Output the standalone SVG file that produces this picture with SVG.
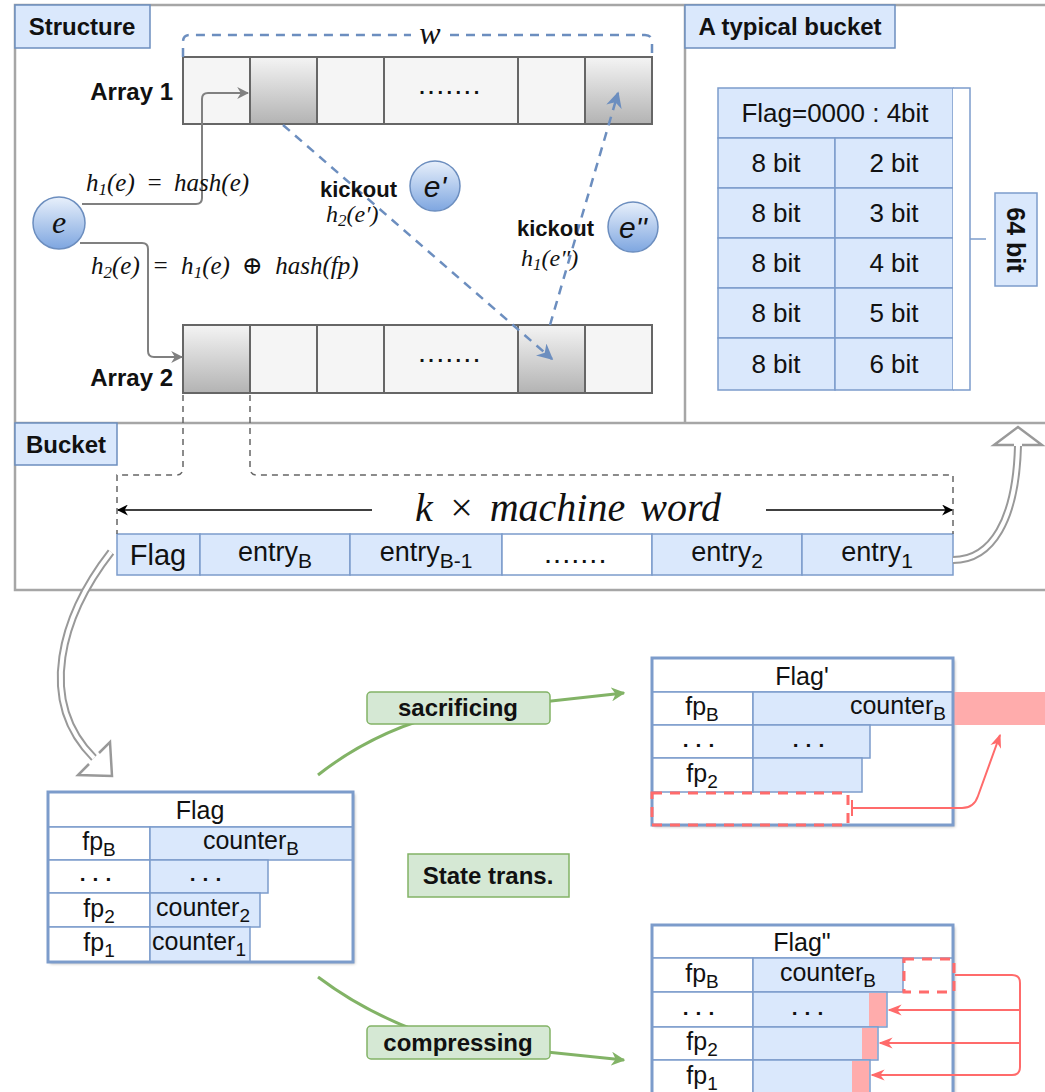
<svg xmlns="http://www.w3.org/2000/svg" width="1045" height="1092" viewBox="0 0 1045 1092">
<style>
.sans{font-family:"Liberation Sans",Arial,sans-serif;fill:#111}
.b{font-weight:bold}
.math{font-family:"Liberation Serif","DejaVu Serif",serif;font-style:italic;fill:#111}
.panel{fill:none;stroke:#a6a6a6;stroke-width:2.5}
.lbl{fill:#dae8fc;stroke:#6c8ebf;stroke-width:1.5}
.cell{fill:#f5f5f5;stroke:#666;stroke-width:2}
.shade{fill:url(#gShade);stroke:#666;stroke-width:2}
.bc{fill:#dae8fc;stroke:#7c9ccb;stroke-width:1.5}
.wc{fill:#fff;stroke:#7c9ccb;stroke-width:1.5}
.outer{fill:none;stroke:#7c9ccb;stroke-width:3}
.pink{fill:#ffacac;stroke:none}
.reddash{fill:none;stroke:#ff6b6b;stroke-width:3;stroke-dasharray:10 8}
.red{fill:none;stroke:#ff6b6b;stroke-width:2}
.gline{fill:none;stroke:#82b366;stroke-width:3}
.glbl{fill:#d5e8d4;stroke:#82b366;stroke-width:1.5}
.bdash{fill:none;stroke:#6c8ebf;stroke-width:2.5;stroke-dasharray:9 7}
.gdash{fill:none;stroke:#666;stroke-width:1.5;stroke-dasharray:6 5}
.conn{fill:none;stroke:#808080;stroke-width:2}
.hollowO{fill:none;stroke:#999;stroke-width:8}
.hollowI{fill:none;stroke:#fff;stroke-width:4}
.hhead{fill:#fff;stroke:#999;stroke-width:2.5;stroke-linejoin:miter}
.circ{fill:url(#gCirc);stroke:#6c8ebf;stroke-width:1.5}
</style>
<defs>
<linearGradient id="gShade" x1="0" y1="0" x2="0" y2="1"><stop offset="0" stop-color="#f4f4f4"/><stop offset="1" stop-color="#b3b3b3"/></linearGradient>
<linearGradient id="gCirc" x1="0" y1="0" x2="0" y2="1"><stop offset="0" stop-color="#e8f0fb"/><stop offset="1" stop-color="#7ea6e0"/></linearGradient>
<marker id="mGray" viewBox="0 0 10 10" refX="9" refY="5" markerWidth="12" markerHeight="12" markerUnits="userSpaceOnUse" orient="auto"><path d="M0,0 L10,5 L0,10 L3,5 z" fill="#808080"/></marker>
<marker id="mBlue" viewBox="0 0 10 10" refX="9" refY="5" markerWidth="16" markerHeight="16" markerUnits="userSpaceOnUse" orient="auto"><path d="M0,0 L10,5 L0,10 L3,5 z" fill="#6c8ebf"/></marker>
<marker id="mBlack" viewBox="0 0 10 10" refX="9" refY="5" markerWidth="11" markerHeight="11" markerUnits="userSpaceOnUse" orient="auto"><path d="M0,0 L10,5 L0,10 L3,5 z" fill="#000"/></marker>
<marker id="mGreen" viewBox="0 0 10 10" refX="9" refY="5" markerWidth="14" markerHeight="14" markerUnits="userSpaceOnUse" orient="auto"><path d="M0,0 L10,5 L0,10 L3,5 z" fill="#82b366"/></marker>
<marker id="mRed" viewBox="0 0 10 10" refX="9" refY="5" markerWidth="14" markerHeight="14" markerUnits="userSpaceOnUse" orient="auto"><path d="M0,1 L10,5 L0,9 L3,5 z" fill="#ff6b6b"/></marker>
<filter id="sh" x="-5%" y="-5%" width="115%" height="115%"><feDropShadow dx="2" dy="2" stdDeviation="1.5" flood-color="#000" flood-opacity="0.25"/></filter>
</defs>

<rect width="1045" height="1092" fill="#fff"/>

<g id="panels">
<rect class="panel" x="15" y="5" width="1040" height="585"/>
<line class="panel" x1="15" y1="423" x2="1045" y2="423"/>
<line class="panel" x1="685" y1="5" x2="685" y2="423"/>
</g>

<g id="label-structure"><rect class="lbl" x="15" y="5" width="135" height="43"/><text class="sans b" x="82" y="35" font-size="24" text-anchor="middle">Structure</text></g>
<g id="label-typical"><rect class="lbl" x="685" y="5" width="210" height="43"/><text class="sans b" x="790" y="35" font-size="24" text-anchor="middle">A typical bucket</text></g>
<g id="label-bucket"><rect class="lbl" x="15" y="423" width="102" height="42"/><text class="sans b" x="66" y="453" font-size="24" text-anchor="middle">Bucket</text></g>

<g id="array1">
<text class="sans b" x="173" y="100" font-size="24" text-anchor="end">Array 1</text>
<rect class="cell" x="183" y="57" width="67" height="67"/>
<rect class="shade" x="250" y="57" width="67" height="67"/>
<rect class="cell" x="317" y="57" width="67" height="67"/>
<rect class="cell" x="384" y="57" width="134" height="67"/>
<rect class="cell" x="518" y="57" width="67" height="67"/>
<rect class="shade" x="585" y="57" width="67" height="67"/>
<text class="sans b" x="451" y="94" font-size="20" text-anchor="middle" letter-spacing="3.5">.......</text>
</g>

<g id="array2">
<text class="sans b" x="173" y="386" font-size="24" text-anchor="end">Array 2</text>
<rect class="shade" x="183" y="325" width="67" height="68"/>
<rect class="cell" x="250" y="325" width="67" height="68"/>
<rect class="cell" x="317" y="325" width="67" height="68"/>
<rect class="cell" x="384" y="325" width="134" height="68"/>
<rect class="shade" x="518" y="325" width="67" height="68"/>
<rect class="cell" x="585" y="325" width="67" height="68"/>
<text class="sans b" x="451" y="362" font-size="20" text-anchor="middle" letter-spacing="3.5">.......</text>
</g>

<g id="node-e"><circle class="circ" cx="59" cy="223" r="26"/><text class="math" x="59" y="233" font-size="32" text-anchor="middle">e</text></g>
<g id="node-e1"><circle class="circ" cx="435" cy="186" r="25"/><text class="sans" x="435" y="197" font-size="30" font-style="italic" text-anchor="middle">e'</text></g>
<g id="node-e2"><circle class="circ" cx="633" cy="227" r="25"/><text class="sans" x="633" y="238" font-size="30" font-style="italic" text-anchor="middle">e''</text></g>

<g id="typical-bucket" class="sans">
<rect class="bc" x="718" y="88" width="235" height="50"/>
<text x="835" y="122" font-size="26" text-anchor="middle">Flag=0000 : 4bit</text>
<rect class="bc" x="718" y="138" width="117" height="50"/><rect class="bc" x="835" y="138" width="118" height="50"/>
<rect class="bc" x="718" y="188" width="117" height="50"/><rect class="bc" x="835" y="188" width="118" height="50"/>
<rect class="bc" x="718" y="238" width="117" height="50"/><rect class="bc" x="835" y="238" width="118" height="50"/>
<rect class="bc" x="718" y="288" width="117" height="50"/><rect class="bc" x="835" y="288" width="118" height="50"/>
<rect class="bc" x="718" y="338" width="117" height="52"/><rect class="bc" x="835" y="338" width="118" height="52"/>
<g font-size="26" text-anchor="middle">
<text x="776" y="172">8 bit</text><text x="894" y="172">2 bit</text>
<text x="776" y="222">8 bit</text><text x="894" y="222">3 bit</text>
<text x="776" y="272">8 bit</text><text x="894" y="272">4 bit</text>
<text x="776" y="322">8 bit</text><text x="894" y="322">5 bit</text>
<text x="776" y="373">8 bit</text><text x="894" y="373">6 bit</text>
</g>
<path d="M953 88 H970 V390 H953" fill="#fff" stroke="#7c9ccb" stroke-width="1.5"/>
<line x1="970" y1="239" x2="986" y2="239" stroke="#7c9ccb" stroke-width="1.5"/>
<rect class="bc" x="995" y="193" width="42" height="93"/>
<text class="b" x="1016" y="240" font-size="25" text-anchor="middle" transform="rotate(90 1016 240)" dy="9">64 bit</text>
</g>

<g id="bucket-row" class="sans">
<rect class="bc" x="117" y="534" width="83" height="41"/>
<rect class="bc" x="200" y="534" width="150" height="41"/>
<rect class="bc" x="350" y="534" width="152" height="41"/>
<rect x="502" y="534" width="150" height="41" fill="#fff" stroke="#7c9ccb" stroke-width="1.5"/>
<rect class="bc" x="652" y="534" width="150" height="41"/>
<rect class="bc" x="802" y="534" width="151" height="41"/>
<text x="158" y="565" font-size="29" text-anchor="middle">Flag</text>
<text x="275" y="561" font-size="27" text-anchor="middle">entry<tspan font-size="21" dy="7">B</tspan></text>
<text x="426" y="561" font-size="27" text-anchor="middle">entry<tspan font-size="21" dy="7">B-1</tspan></text>
<text class="b" x="577" y="563" font-size="20" text-anchor="middle" letter-spacing="3.5">.......</text>
<text x="727" y="561" font-size="27" text-anchor="middle">entry<tspan font-size="21" dy="7">2</tspan></text>
<text x="877" y="561" font-size="27" text-anchor="middle">entry<tspan font-size="21" dy="7">1</tspan></text>
</g>

<g id="table-flag" class="sans">
<rect x="48" y="792" width="305" height="170" fill="#fff" filter="url(#sh)"/>
<rect class="wc" x="48" y="792" width="305" height="35"/>
<rect class="wc" x="48" y="827" width="102" height="33"/>
<rect class="wc" x="48" y="860" width="102" height="33"/>
<rect class="wc" x="48" y="893" width="102" height="34"/>
<rect class="wc" x="48" y="927" width="102" height="35"/>
<rect class="bc" x="150" y="827" width="203" height="33"/>
<rect class="bc" x="150" y="860" width="118" height="33"/>
<rect class="bc" x="150" y="893" width="110" height="34"/>
<rect class="bc" x="150" y="927" width="100" height="35"/>
<rect class="outer" x="48" y="792" width="305" height="170"/>
<text x="200" y="819" font-size="25" text-anchor="middle">Flag</text>
<g font-size="25">
<text x="99" y="850" text-anchor="middle">fp<tspan font-size="19" dy="6">B</tspan></text>
<text x="99" y="881" text-anchor="middle" font-weight="bold" font-size="21" letter-spacing="7">...</text>
<text x="99" y="917" text-anchor="middle">fp<tspan font-size="19" dy="6">2</tspan></text>
<text x="99" y="951" text-anchor="middle">fp<tspan font-size="19" dy="6">1</tspan></text>
<text x="251" y="849" text-anchor="middle">counter<tspan font-size="19" dy="6">B</tspan></text>
<text x="209" y="881" text-anchor="middle" font-weight="bold" font-size="21" letter-spacing="7">...</text>
<text x="156" y="916">counter<tspan font-size="19" dy="6">2</tspan></text>
<text x="152" y="950">counter<tspan font-size="19" dy="6">1</tspan></text>
</g>
</g>

<g id="table-flag1" class="sans">
<rect x="652" y="658" width="301" height="167" fill="#fff" filter="url(#sh)"/>
<rect class="wc" x="652" y="658" width="301" height="34"/>
<rect class="wc" x="652" y="692" width="101" height="33"/>
<rect class="wc" x="652" y="725" width="101" height="33"/>
<rect class="wc" x="652" y="758" width="101" height="34"/>
<rect class="bc" x="753" y="692" width="200" height="33"/>
<rect class="pink" x="953" y="692" width="95" height="33"/>
<rect class="bc" x="753" y="725" width="117" height="33"/>
<rect class="bc" x="753" y="758" width="109" height="34"/>
<rect class="outer" x="652" y="658" width="301" height="167"/>
<rect class="reddash" x="652" y="793" width="196" height="32"/>
<text x="802" y="685" font-size="25" text-anchor="middle">Flag'</text>
<g font-size="25">
<text x="702" y="715" text-anchor="middle">fp<tspan font-size="19" dy="6">B</tspan></text>
<text x="702" y="747" text-anchor="middle" font-weight="bold" font-size="21" letter-spacing="7">...</text>
<text x="702" y="782" text-anchor="middle">fp<tspan font-size="19" dy="6">2</tspan></text>
<text x="946" y="714" text-anchor="end">counter<tspan font-size="19" dy="6">B</tspan></text>
<text x="812" y="747" text-anchor="middle" font-weight="bold" font-size="21" letter-spacing="7">...</text>
</g>
</g>

<g id="table-flag2" class="sans">
<rect x="652" y="925" width="301" height="175" fill="#fff" filter="url(#sh)"/>
<rect class="wc" x="652" y="925" width="301" height="33"/>
<rect class="wc" x="652" y="958" width="101" height="34"/>
<rect class="wc" x="652" y="992" width="101" height="35"/>
<rect class="wc" x="652" y="1027" width="101" height="33"/>
<rect class="wc" x="652" y="1060" width="101" height="40"/>
<rect class="bc" x="753" y="958" width="150" height="34"/>
<rect class="bc" x="753" y="992" width="134" height="35"/>
<rect class="pink" x="869" y="993" width="17" height="33"/>
<rect class="bc" x="753" y="1027" width="125" height="33"/>
<rect class="pink" x="862" y="1028" width="15" height="31"/>
<rect class="bc" x="753" y="1060" width="117" height="40"/>
<rect class="pink" x="852" y="1061" width="17" height="38"/>
<rect class="outer" x="652" y="925" width="301" height="180"/>
<rect class="reddash" x="904" y="959" width="50" height="33" fill="#fff"/>
<text x="802" y="951" font-size="25" text-anchor="middle">Flag"</text>
<g font-size="25">
<text x="702" y="982" text-anchor="middle">fp<tspan font-size="19" dy="6">B</tspan></text>
<text x="702" y="1015" text-anchor="middle" font-weight="bold" font-size="21" letter-spacing="7">...</text>
<text x="702" y="1050" text-anchor="middle">fp<tspan font-size="19" dy="6">2</tspan></text>
<text x="702" y="1084" text-anchor="middle">fp<tspan font-size="19" dy="6">1</tspan></text>
<text x="828" y="981" text-anchor="middle">counter<tspan font-size="19" dy="6">B</tspan></text>
<text x="811" y="1015" text-anchor="middle" font-weight="bold" font-size="21" letter-spacing="7">...</text>
</g>
</g>

<g id="connectors">
<path class="bdash" d="M183 57 V42 Q183 35 190 35 H411"/>
<path class="bdash" d="M450 35 H645 Q652 35 652 42 V57"/>
<path class="conn" d="M82 204 H196 Q202 204 202 198 V99 Q202 93 208 93 H248" marker-end="url(#mGray)"/>
<path class="conn" d="M80 243 H142 Q148 243 148 249 V351 Q148 357 154 357 H182" marker-end="url(#mGray)"/>
<path class="bdash" d="M283 125 L552 359" marker-end="url(#mBlue)"/>
<path class="bdash" d="M550 325 L618 93" marker-end="url(#mBlue)"/>
<path class="gdash" d="M183 395 V468 Q183 475 176 475 H117 V534"/>
<path class="gdash" d="M250 395 V468 Q250 475 257 475 H953 V534"/>
<path d="M372 510 H118" stroke="#000" stroke-width="1.5" marker-end="url(#mBlack)"/>
<path d="M766 510 H952" stroke="#000" stroke-width="1.5" marker-end="url(#mBlack)"/>
<path class="hollowO" d="M953 560 C992 560 1016 520 1018 446"/>
<path class="hollowI" d="M953 560 C992 560 1016 520 1018 446"/>
<path class="hhead" d="M1014 445 H994 L1018 427 L1042 445 H1022"/>
<path class="hollowO" d="M111 552 C62 615 36 700 94 758"/>
<path class="hollowI" d="M111 552 C62 615 36 700 94 758"/>
<path class="hhead" d="M89 764 L78 775 L112 776 L110 742 L99 753"/>
<path class="gline" d="M318 775 Q375 730 450 712 L624 693" marker-end="url(#mGreen)"/>
<path class="gline" d="M318 977 Q375 1020 450 1042 L624 1060" marker-end="url(#mGreen)"/>
<path class="red" d="M852 808 H962 Q974 808 978 796 L1000 735" marker-end="url(#mRed)"/>
<path class="red" d="M852 800 V816"/>
<path class="red" d="M955 975 H1012 Q1020 975 1020 983 V1067 Q1020 1075 1012 1075 H872" marker-end="url(#mRed)"/>
<path class="red" d="M1020 1010 H889" marker-end="url(#mRed)"/>
<path class="red" d="M1020 1043 H880" marker-end="url(#mRed)"/>
</g>

<g id="labels-math">
<text class="math" x="430" y="44" font-size="32" text-anchor="middle">w</text>
<text class="math" x="86" y="191" font-size="25" word-spacing="5">h<tspan font-size="17" dy="4">1</tspan><tspan dy="-4">(e) = hash(e)</tspan></text>
<text class="math" x="91" y="274" font-size="25" word-spacing="6">h<tspan font-size="17" dy="4">2</tspan><tspan dy="-4">(e) = h</tspan><tspan font-size="17" dy="4">1</tspan><tspan dy="-4">(e) ⊕ hash(fp)</tspan></text>
<text class="sans b" x="320" y="197" font-size="22">kickout</text>
<text class="math" x="326" y="222" font-size="24">h<tspan font-size="17" dy="4">2</tspan><tspan dy="-4">(e′)</tspan></text>
<text class="sans b" x="517" y="236" font-size="22">kickout</text>
<text class="math" x="521" y="266" font-size="24">h<tspan font-size="17" dy="4">1</tspan><tspan dy="-4">(e″)</tspan></text>
<text class="math" x="568" y="521" font-size="40" word-spacing="5" text-anchor="middle">k × machine word</text>
</g>

<g id="state-sacrificing"><rect class="glbl" x="367" y="692" width="183" height="32" rx="4"/><text class="sans b" x="458" y="716" font-size="24" text-anchor="middle">sacrificing</text></g>
<g id="state-trans"><rect class="glbl" x="408" y="854" width="161" height="43"/><text class="sans b" x="488" y="884" font-size="24" text-anchor="middle">State trans.</text></g>
<g id="state-compressing"><rect class="glbl" x="367" y="1026" width="183" height="33" rx="4"/><text class="sans b" x="458" y="1051" font-size="24" text-anchor="middle">compressing</text></g>
</svg>
